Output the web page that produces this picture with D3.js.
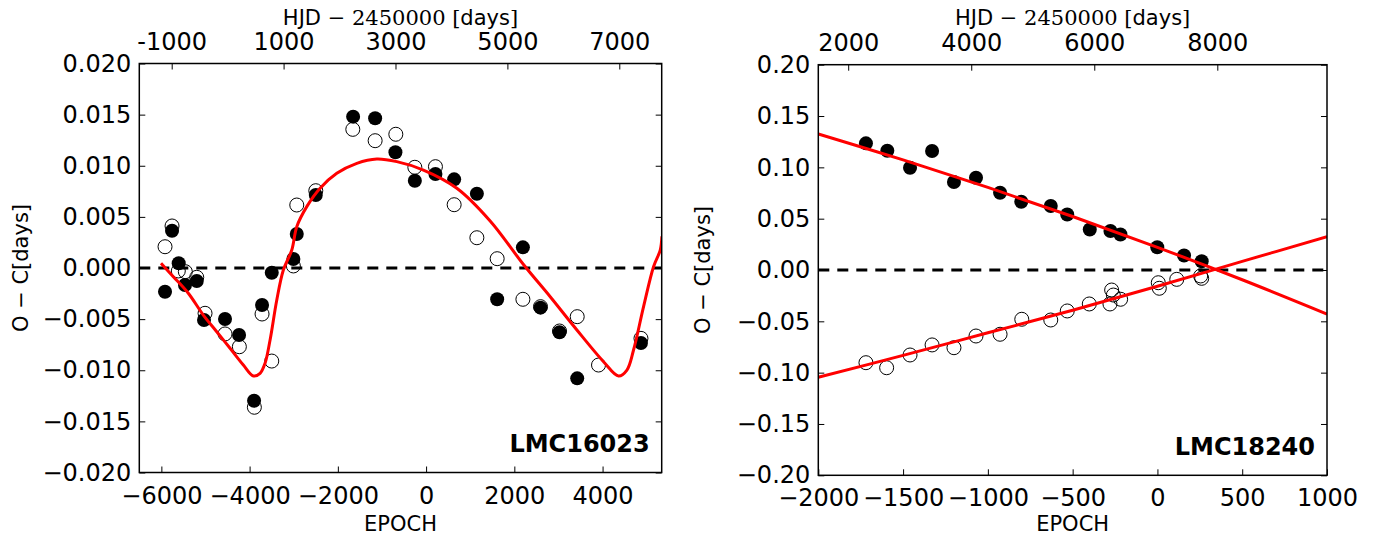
<!DOCTYPE html>
<html lang="en">
<head>
<meta charset="UTF-8" />
<title>O-C diagrams LMC16023 / LMC18240</title>
<script src="https://d3js.org/d3.v7.min.js"></script>
<style>
  body { margin: 0; background: #fff; }
  svg text { font-family: "DejaVu Sans", sans-serif; fill: #000; }
</style>
</head>
<body>
<div class="ocChart"></div>
<script>
// ---- LMC16023 (left panel) ----
const epochTicksA = [-6000, -4000, -2000, 0, 2000, 4000];
const hjdTicksA = [-1000, 1000, 3000, 5000, 7000];
const ocTicksA = [0.020, 0.015, 0.010, 0.005, 0.000, -0.005, -0.010, -0.015, -0.020];

const filledEpochA = [-5917, -5758, -5607, -5464, -5198, -5033, -4557, -4239, -3899, -3718, -3498, -3008, -2931, -2500,
  -1654, -1155, -695, -255, 212, 636, 1151, 1611, 2194, 2593, 3024, 3425, 4870];
const filledOCA = [-0.00232, 0.00365, 0.00046, -0.00166, -0.00127, -0.00509, -0.00499, -0.00655, -0.01298, -0.00362, -0.00046, 0.00088, 0.00333, 0.00714,
  0.0148, 0.01464, 0.01132, 0.00854, 0.00919, 0.00867, 0.00726, -0.00306, 0.00202, -0.00388, -0.00629, -0.01079, -0.00733];

const openEpochA = [-5917, -5758, -5616, -5457, -5198, -5010, -4557, -4232, -3892, -3718, -3498, -3008, -2931, -2500,
  -1661, -1155, -686, -255, 212, 636, 1151, 1611, 2194, 2593, 3024, 3425, 3908, 4870];
const openOCA = [0.00208, 0.00411, -0.00029, -0.00036, -0.00091, -0.00443, -0.00645, -0.0077, -0.01362, -0.0045, -0.0091, 0.0002, 0.00616, 0.00756,
  0.01356, 0.01245, 0.01308, 0.00985, 0.00991, 0.00619, 0.00296, 0.00091, -0.00306, -0.00378, -0.00616, -0.00476, -0.00949, -0.00688];

// fitted light-time curve
const fitEpochA = [-6008, -5729, -5389, -5049, -4745, -4443, -4142, -3915, -3763, -3650, -3536, -3384, -3235, -3044, -2931,
  -2704, -2402, -2024, -1570, -1117, -663, -60, 697, 1452, 2207, 2813, 3418, 4022, 4362, 4552, 4702, 4929, 5155, 5307, 5345];
const fitOCA = [0.00046, -0.00085, -0.00247, -0.0046, -0.00623, -0.00785, -0.00949, -0.01056, -0.0103, -0.00932, -0.00704, -0.00313, -0.0002, 0.00176, 0.00404,
  0.006, 0.0078, 0.00926, 0.01024, 0.01066, 0.0104, 0.00958, 0.0078, 0.0046, 0.00034, -0.00281, -0.00606, -0.00916, -0.01056, -0.00998, -0.00802, -0.00378, 0.00013, 0.00176, 0.0031];

// ---- LMC18240 (right panel) ----
const epochTicksB = [-2000, -1500, -1000, -500, 0, 500, 1000];
const hjdTicksB = [2000, 4000, 6000, 8000];
const ocTicksB = [0.20, 0.15, 0.10, 0.05, 0.00, -0.05, -0.10, -0.15, -0.20];

const filledEpochB = [-1719, -1593, -1459, -1329, -1200, -1070, -928, -803, -629, -532, -399, -277, -218, -1, 157, 261];
const filledOCB = [0.1234, 0.1162, 0.0996, 0.1159, 0.0857, 0.0899, 0.0753, 0.0665, 0.0623, 0.0540, 0.0395, 0.0380, 0.0346, 0.0221, 0.0141, 0.0085];

const openEpochB = [-1719, -1597, -1459, -1329, -1200, -1070, -928, -800, -629, -532, -402, -280, -270, -260, -217, 5, 11, 114, 255, 261];
const openOCB = [-0.0903, -0.0952, -0.0828, -0.0730, -0.0757, -0.0643, -0.0626, -0.0480, -0.0487, -0.0399, -0.0331, -0.0331, -0.0195, -0.0244, -0.0285, -0.0124, -0.0178, -0.0091, -0.0058, -0.0081];

const fitEpochB = [-2000, -1500, -1000, -500, 0, 500, 1000];
const fitUpperB = [0.1325, 0.1073, 0.0805, 0.0521, 0.0221, -0.0095, -0.0429];
const fitLowerB = [-0.1045, -0.0832, -0.0612, -0.0392, -0.0158, 0.0084, 0.0324];

const width = 1384, height = 541;

const svg = d3.select(".ocChart")
  .append("svg")
    .attr("width", width)
    .attr("height", height);

svg.append("rect").attr("width", width).attr("height", height).attr("fill", "#fff");

const zip = (xs, ys) => xs.map((e, i) => [e, ys[i]]);

function drawPanel(p) {
  const x = d3.scaleLinear().domain(p.xDomain).range([p.left, p.right]);
  const xTop = d3.scaleLinear().domain(p.hjdDomain).range([p.left, p.right]);
  const y = d3.scaleLinear().domain(p.yDomain).range([p.bottom, p.top]);
  const g = svg.append("g");

  svg.append("clipPath").attr("id", p.id + "-clip")
    .append("rect")
      .attr("x", p.left).attr("y", p.top)
      .attr("width", p.right - p.left).attr("height", p.bottom - p.top);

  const plot = g.append("g").attr("clip-path", `url(#${p.id}-clip)`);

  // zero line
  plot.append("line")
    .attr("x1", p.left).attr("x2", p.right)
    .attr("y1", y(0)).attr("y2", y(0))
    .attr("stroke", "#000")
    .attr("stroke-width", 3)
    .attr("stroke-dasharray", "11,8");

  // open circles
  plot.selectAll(".open")
    .data(zip(p.openE, p.openOC))
    .join("circle")
      .attr("cx", d => x(d[0]))
      .attr("cy", d => y(d[1]))
      .attr("r", 7)
      .attr("fill", "none")
      .attr("stroke", "#000")
      .attr("stroke-width", 1);

  // filled circles
  plot.selectAll(".filled")
    .data(zip(p.filledE, p.filledOC))
    .join("circle")
      .attr("cx", d => x(d[0]))
      .attr("cy", d => y(d[1]))
      .attr("r", 7)
      .attr("fill", "#000");

  // fits
  const line = d3.line()
    .x(d => x(d[0]))
    .y(d => y(d[1]))
    .curve(d3.curveCatmullRom.alpha(0.5));

  p.fits.forEach(f => {
    plot.append("path")
      .attr("d", line(f))
      .attr("fill", "none")
      .attr("stroke", "#ff0000")
      .attr("stroke-width", 3);
  });

  // axes, ticks inward
  const bottomAxis = d3.axisBottom(x)
    .tickValues(p.epochTicks)
    .tickSize(-6).tickPadding(14)
    .tickFormat(d => String(d).replace("-", "\u2212"));
  g.append("g").attr("transform", `translate(0,${p.bottom})`).call(bottomAxis);

  const topAxis = d3.axisTop(xTop)
    .tickValues(p.hjdTicks)
    .tickSize(-6).tickPadding(14)
    .tickFormat(d => String(d));
  g.append("g").attr("transform", `translate(0,${p.top})`).call(topAxis);

  const leftAxis = d3.axisLeft(y)
    .tickValues(p.ocTicks)
    .tickSize(-6).tickPadding(8)
    .tickFormat(d3.format(p.yFormat));
  g.append("g").attr("transform", `translate(${p.left},0)`).call(leftAxis);

  const rightAxis = d3.axisRight(y)
    .tickValues(p.ocTicks)
    .tickSize(-6)
    .tickFormat("");
  g.append("g").attr("transform", `translate(${p.right},0)`).call(rightAxis);

  g.selectAll(".domain").remove();
  g.selectAll(".tick line").attr("stroke", "#000").attr("stroke-width", 1);
  g.selectAll(".tick text")
    .attr("font-family", "DejaVu Sans")
    .attr("font-size", 24)
    .attr("fill", "#000");

  // frame
  g.append("rect")
    .attr("x", p.left).attr("y", p.top)
    .attr("width", p.right - p.left).attr("height", p.bottom - p.top)
    .attr("fill", "none")
    .attr("stroke", "#000")
    .attr("stroke-width", 1.5);

  const cx = (p.left + p.right) / 2;

  // top title: HJD − 2450000 [days]
  const t = g.append("text")
    .attr("x", cx).attr("y", 25)
    .attr("text-anchor", "middle")
    .attr("font-size", 21);
  t.append("tspan").text("HJD");
  t.append("tspan").attr("font-family", "DejaVu Serif").text(" \u2212 2450000 [");
  t.append("tspan").text("days");
  t.append("tspan").attr("font-family", "DejaVu Serif").text("]");

  g.append("text")
    .attr("x", cx).attr("y", 531)
    .attr("text-anchor", "middle")
    .attr("font-size", 21)
    .text("EPOCH");

  g.append("text")
    .attr("transform", `translate(${p.yLabelX},${(p.top + p.bottom) / 2}) rotate(-90)`)
    .attr("text-anchor", "middle")
    .attr("font-size", 21)
    .text("O \u2212 C[days]");

  g.append("text")
    .attr("x", p.right - 12).attr("y", p.bottom - 20.5)
    .attr("text-anchor", "end")
    .attr("font-size", 24)
    .attr("font-weight", "bold")
    .text(p.name);
}

drawPanel({
  id: "lmc16023", name: "LMC16023",
  left: 139.3, right: 661.7, top: 63.5, bottom: 472.5,
  xDomain: [-6500, 5340], hjdDomain: [-1579, 7758], yDomain: [-0.02, 0.02],
  epochTicks: epochTicksA, hjdTicks: hjdTicksA, ocTicks: ocTicksA, yFormat: ".3f",
  filledE: filledEpochA, filledOC: filledOCA,
  openE: openEpochA, openOC: openOCA,
  fits: [zip(fitEpochA, fitOCA)],
  yLabelX: 28
});

drawPanel({
  id: "lmc18240", name: "LMC18240",
  left: 818.3, right: 1327, top: 64.7, bottom: 475.3,
  xDomain: [-2000, 1000], hjdDomain: [1514, 9783], yDomain: [-0.2, 0.2],
  epochTicks: epochTicksB, hjdTicks: hjdTicksB, ocTicks: ocTicksB, yFormat: ".2f",
  filledE: filledEpochB, filledOC: filledOCB,
  openE: openEpochB, openOC: openOCB,
  fits: [zip(fitEpochB, fitUpperB), zip(fitEpochB, fitLowerB)],
  yLabelX: 710
});
</script>
</body>
</html>
